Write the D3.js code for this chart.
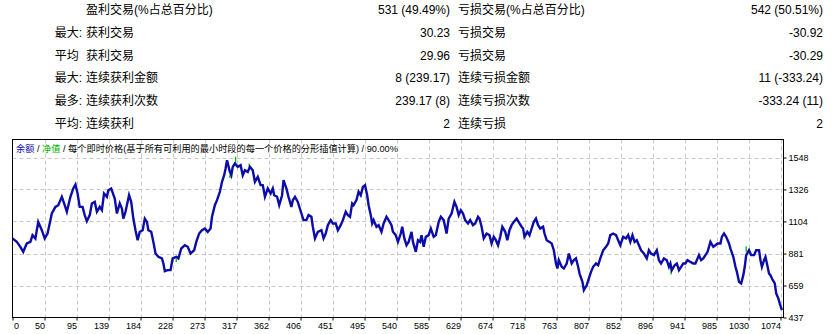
<!DOCTYPE html>
<html>
<head>
<meta charset="utf-8">
<script src="https://cdn.jsdelivr.net/npm/d3@7"></script>
<style>
  body { margin: 0; background: #fff; }
  svg { display: block; font-family: "Liberation Sans", "Noto Sans CJK SC", sans-serif; }
</style>
</head>
<body>
<script>
// summary table (report header)
var rowPrefix = ['', '最大:', '平均 ', '最大:', '最多:', '平均:'];
var winLabels = ['盈利交易(%占总百分比)', '获利交易', '获利交易', '连续获利金额', '连续获利次数', '连续获利'];
var winValues = ['531 (49.49%)', '30.23', '29.96', '8 (239.17)', '239.17 (8)', '2'];
var lossLabels = ['亏损交易(%占总百分比)', '亏损交易', '亏损交易', '连续亏损金额', '连续亏损次数', '连续亏损'];
var lossValues = ['542 (50.51%)', '-30.92', '-30.29', '11 (-333.24)', '-333.24 (11)', '2'];

// chart axes
var xTickLabels = ['0', '50', '95', '139', '184', '228', '273', '317', '362', '406', '451', '495', '540',
                   '585', '629', '674', '718', '763', '807', '852', '896', '941', '985', '1030', '1074'];
var yTickValues = [437, 659, 881, 1104, 1326, 1548];

// balance curve (trade number -> balance)
var trades = [0,6,11,15,20,25,28,32,36,41,45,49,53,55,60,64,69,73,76,81,85,88,91,94,98,101,104,108,111,115,
  118,122,125,128,132,134,138,143,146,150,153,155,158,163,166,169,172,175,178,182,185,188,190,194,197,200,204,209,211,213,217,
  221,224,229,232,236,241,245,249,254,257,261,265,269,273,277,279,283,286,290,293,296,298,300,304,306,308,311,315,319,322,
  325,329,332,336,339,343,347,350,353,357,361,364,366,370,373,377,379,383,386,390,392,395,399,404,407,411,414,418,420,423,
  427,432,435,
  438,441,445,448,452,455,459,462,466,469,472,475,477,481,484,487,490,493,496,498,501,503,505,509,512,516,519,523,526,530,
  532,536,539,543,545,548,551,554,558,560,564,567,570,572,575,578,582,585,589,592,596,599,603,607,610,614,618,621,624,627,
  630,633,637,640,644,647,651,653,
  656,659,663,667,670,673,676,679,682,685,689,692,695,698,701,705,709,712,714,716,720,723,726,729,732,735,738,742,744,747,
  751,754,757,760,762,764,768,771,775,778,782,785,788,791,793,797,799,803,806,809,812,816,819,822,826,830,833,836,840,844,
  847,850,854,858,861,864,867,870,
  873,876,879,883,887,890,893,897,901,904,907,911,915,918,920,922,926,929,932,935,938,941,944,948,952,955,960,963,966,969,
  972,976,980,983,986,990,992,995,998,1002,1004,1008,1011,1013,1016,1019,1022,1024,1026,1030,1033,1037,1040,1044,1046,1048,
  1051,1053,1055,1058,1060,1062,1066,1068,1071,1073,1076];

var balance = [986,962,928,893,951,962,1009,986,1101,1043,986,1020,1113,1159,1205,1217,1275,1217,1171,1275,
  1333,1360,1298,1205,1205,1148,1106,1148,1229,1240,1171,1205,1182,1298,1275,1321,1333,1263,1159,1229,
  1194,1124,1171,1286,1240,1124,1043,974,1032,1043,1124,1101,1043,1032,962,881,858,847,812,759,766,
  766,847,858,847,916,939,928,881,904,962,1020,1043,1055,1032,1055,1136,1217,1252,1310,1379,
  1425,1472,1529,1448,1425,1483,1506,1483,1495,1425,1460,1448,1483,1460,1379,1414,1356,1356,1275,1333,
  1298,1333,1286,1275,1217,1286,1391,1333,1275,1205,1252,1275,1240,1159,1113,1113,1148,1136,1067,986,
  1032,1043,986,
  1020,1078,1113,1090,1090,1043,1078,1113,1171,1148,1136,1229,1217,1252,1310,1286,1344,1356,1286,1217,
  1148,1090,1113,1067,1078,1032,1090,1136,1113,1078,1032,1009,962,1020,1067,986,939,962,1032,962,
  893,974,962,1009,928,997,1009,1055,997,1009,1101,1136,1113,1020,1124,1159,1240,1205,1148,1182,
  1159,1113,1090,1113,1078,1090,1136,1124,
  1067,986,1020,1009,951,997,974,939,997,1067,1032,974,1043,1078,1101,1124,1090,1067,1055,997,
  1032,1009,1055,1101,1124,1078,1055,1067,1020,974,962,951,904,812,777,835,789,777,812,881,
  812,835,847,789,742,685,627,661,708,754,789,812,800,847,904,928,951,1009,1020,1009,
  974,939,997,986,1009,962,1009,962,
  974,939,904,881,847,904,881,870,904,835,812,847,835,789,812,766,800,812,766,789,
  812,812,835,823,812,812,870,835,847,870,893,962,928,939,951,951,997,1020,997,951,
  916,858,789,754,685,673,731,789,870,904,870,870,904,904,835,789,835,858,812,742,
  731,708,673,604,569,534,488];

// equity spikes poking out of the balance line
var equityTrades = [229, 304, 312, 331, 921, 1026];
var equityFrom = [847, 1425, 1506, 1483, 789, 893];
var equityTo = [823, 1405, 1553, 1506, 736, 932];

var width = 836, height = 334;
// plot frame ('top' is taken by window.top, so prefix these)
var plotLeft = 12.5, plotRight = 783.5, plotTop = 139.5, plotBottom = 317.5;

var svg = d3.select('body').append('svg')
    .attr('width', width)
    .attr('height', height);

// ---- table ----
var rowY = function(i){ return 14 + i * 22.8; };
var table = svg.append('g').attr('font-size', '12px').attr('fill', '#000');

function column(texts, xPos, anchor){
    table.append('g').selectAll('text')
        .data(texts)
        .join('text')
        .attr('x', xPos)
        .attr('y', (d, i) => rowY(i))
        .attr('text-anchor', anchor)
        .style('white-space', 'pre')
        .text(d => d);
}
column(rowPrefix, 82, 'end');
column(winLabels, 86, 'start');
column(winValues, 450, 'end');
column(lossLabels, 458, 'start');
column(lossValues, 823, 'end');

// ---- chart ----
var x = d3.scaleLinear().domain([0, 1074]).range([plotLeft, 780.5]);
var xLabels = d3.scalePoint().domain(xTickLabels).range([plotLeft, 780.5]);
var y = d3.scaleLinear().domain([437, 1548]).range([plotBottom, 157.5]);

// grid
var grid = svg.append('g')
    .attr('stroke', '#c8c8c8')
    .attr('stroke-dasharray', '4,3');
grid.selectAll('line.v')
    .data(xTickLabels.slice(1))
    .join('line')
    .attr('class', 'v')
    .attr('x1', d => Math.round(xLabels(d)) + 0.5)
    .attr('x2', d => Math.round(xLabels(d)) + 0.5)
    .attr('y1', plotTop)
    .attr('y2', plotBottom);
grid.selectAll('line.h')
    .data(yTickValues.slice(1))
    .join('line')
    .attr('class', 'h')
    .attr('x1', plotLeft)
    .attr('x2', plotRight)
    .attr('y1', d => Math.round(y(d)) + 0.5)
    .attr('y2', d => Math.round(y(d)) + 0.5);

svg.append('clipPath').attr('id', 'plot')
    .append('rect')
    .attr('x', plotLeft).attr('y', plotTop)
    .attr('width', plotRight - plotLeft).attr('height', plotBottom - plotTop);

var plot = svg.append('g').attr('clip-path', 'url(#plot)');

// equity (green) under the balance
plot.append('g').selectAll('line')
    .data(equityTrades)
    .join('line')
    .attr('x1', d => x(d))
    .attr('x2', d => x(d))
    .attr('y1', (d, i) => y(equityFrom[i]))
    .attr('y2', (d, i) => y(equityTo[i]))
    .attr('stroke', '#00b400')
    .attr('stroke-width', 1.3);

var balLine = d3.line()
    .x((d, i) => x(trades[i]))
    .y(d => y(d));

plot.append('path')
    .attr('d', balLine(balance))
    .attr('fill', 'none')
    .attr('stroke', '#0c0ca8')
    .attr('stroke-width', 2.4)
    .attr('stroke-linejoin', 'miter');

// frame
svg.append('rect')
    .attr('x', plotLeft).attr('y', plotTop)
    .attr('width', plotRight - plotLeft).attr('height', plotBottom - plotTop)
    .attr('fill', 'none')
    .attr('stroke', '#000');

// x axis
var xAxis = svg.append('g')
    .attr('transform', 'translate(0,' + plotBottom + ')')
    .call(d3.axisBottom(xLabels).tickSize(3).tickSizeOuter(0));
xAxis.select('.domain').remove();
xAxis.selectAll('text')
    .attr('font-family', 'Liberation Sans, sans-serif')
    .attr('font-size', '9px')
    .attr('fill', '#000')
    .attr('y', 11)
    .attr('dy', 0)
    .attr('text-anchor', (d, i) => i === 0 ? 'start' : 'end')
    .attr('dx', (d, i) => i === 0 ? 1 : 0);

// y axis on the right
var yAxis = svg.append('g')
    .attr('transform', 'translate(' + plotRight + ',0)')
    .call(d3.axisRight(y).tickValues(yTickValues).tickFormat(d3.format('d')).tickSize(3).tickSizeOuter(0));
yAxis.select('.domain').remove();
yAxis.selectAll('text')
    .attr('font-family', 'Liberation Sans, sans-serif')
    .attr('font-size', '9px')
    .attr('fill', '#000')
    .attr('x', 5);

// chart caption
var caption = svg.append('text')
    .attr('x', 16)
    .attr('y', 151.5)
    .attr('font-size', '9.2px')
    .attr('fill', '#000');
caption.append('tspan').attr('fill', '#0c0ca8').text('余额');
caption.append('tspan').text(' / ');
caption.append('tspan').attr('fill', '#00b400').text('净值');
caption.append('tspan').text(' / 每个即时价格(基于所有可利用的最小时段的每一个价格的分形插值计算) / 90.00%');
</script>
</body>
</html>
